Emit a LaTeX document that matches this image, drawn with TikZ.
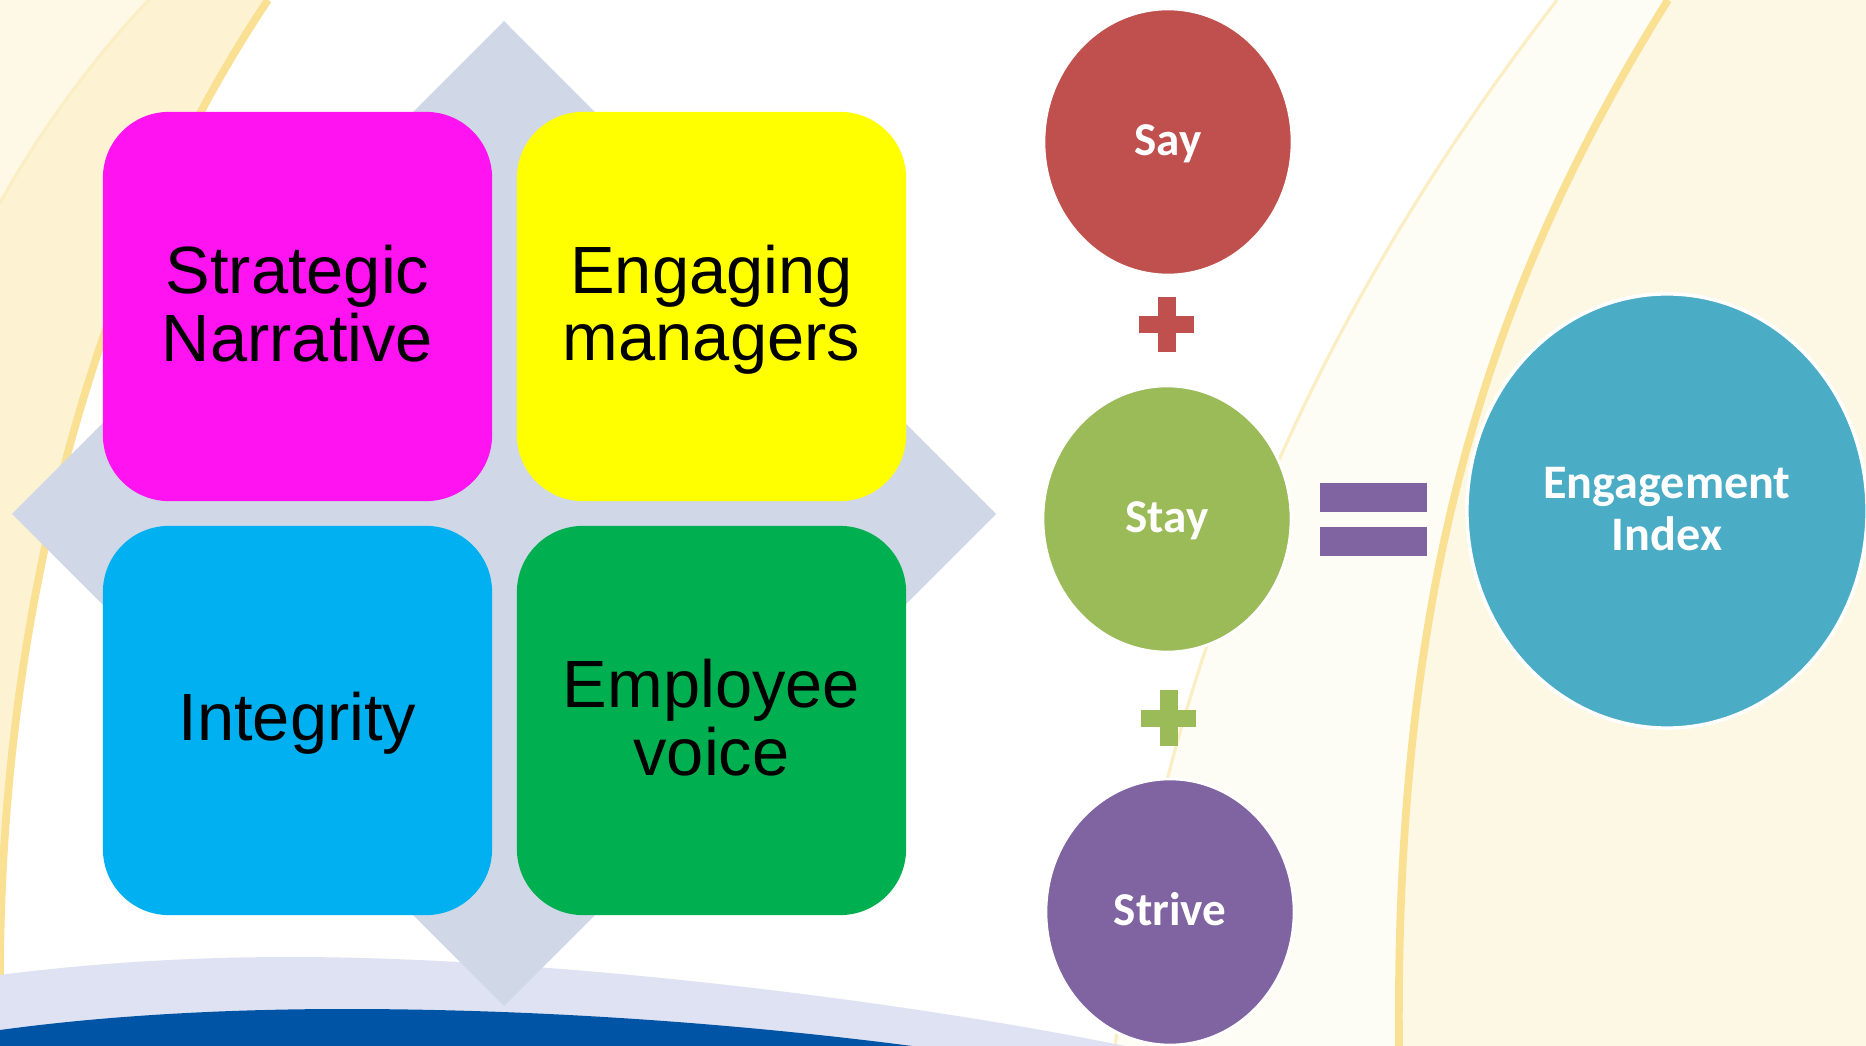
\documentclass[tikz,border=0pt]{standalone}
\usepackage{fontspec}
\setmainfont{Liberation Sans}
\newfontfamily\calibri{Carlito}
\usetikzlibrary{shapes.geometric}

\definecolor{quadpink}{RGB}{255,19,240}
\definecolor{quadyellow}{RGB}{255,255,0}
\definecolor{quadblue}{RGB}{0,176,240}
\definecolor{quadgreen}{RGB}{0,176,80}
\definecolor{diamondgrey}{RGB}{208,216,232}
\definecolor{sayred}{RGB}{192,80,77}
\definecolor{staygreen}{RGB}{155,187,89}
\definecolor{strivepurple}{RGB}{128,100,162}
\definecolor{indexblue}{RGB}{75,172,198}
\definecolor{creamdeep}{RGB}{253,242,210}
\definecolor{creamlight}{RGB}{254,248,230}
\definecolor{creamright}{RGB}{253,248,228}
\definecolor{creamfaint}{RGB}{254,253,245}
\definecolor{arcyellow}{RGB}{250,224,146}
\definecolor{arcpale}{RGB}{252,238,196}
\definecolor{bandlilac}{RGB}{222,226,242}
\definecolor{bandnavy}{RGB}{0,84,165}

% struts so that one and two line labels sit like the slide text
\newcommand{\qstrut}{\rule[-0.18em]{0pt}{1em}}
\newcommand{\cstrut}{\rule[-0.27em]{0pt}{1.12em}}
% keep the baselines at a fixed distance
\newcommand{\tightlines}{\lineskiplimit-100pt\relax}

\begin{document}
\begin{tikzpicture}[x=0.01cm,y=-0.01cm,
   quad/.style={rounded corners=18.8pt,minimum width=3.89cm,minimum height=3.89cm,inner sep=0pt,
     align=center,font=\fontsize{19}{19.3}\selectfont\tightlines},
   ball/.style={ellipse,draw=white,line width=0.8pt,minimum width=2.48cm,minimum height=2.66cm,
     inner sep=0pt,align=center,text=white,
     font=\calibri\bfseries\fontsize{13.4}{14.8}\selectfont\tightlines}]
   \useasboundingbox (0,0) rectangle (1866,1046);
   \clip (0,0) rectangle (1866,1046);
   \fill[white] (0,0) rectangle (1866,1046);

   % background arcs, left
   \fill[creamdeep] (0,0) -- (268,0) .. controls (100,250) and (0,600) .. (0,980) -- cycle;
   \fill[creamlight] (0,0) -- (149,0) .. controls (100,50) and (40,130) .. (0,203) -- cycle;
   \draw[arcpale,line width=0.9pt] (149,0) .. controls (100,50) and (40,130) .. (0,203);
   \draw[arcyellow,line width=2.2pt] (268,0) .. controls (100,250) and (0,600) .. (0,980);

   % background arcs, right
   \fill[creamfaint] (1557,0) .. controls (1380,230) and (1180,560) .. (1115,1046) -- (1866,1046) -- (1866,0) -- cycle;
   \fill[creamright] (1668,0) .. controls (1480,300) and (1395,600) .. (1399,1046) -- (1866,1046) -- (1866,0) -- cycle;
   \draw[arcpale,line width=0.9pt] (1557,0) .. controls (1380,230) and (1180,560) .. (1115,1046);
   \draw[arcyellow,line width=2.2pt] (1668,0) .. controls (1480,300) and (1395,600) .. (1399,1046);

   % bottom bands
   \fill[bandlilac] (0,975) .. controls (100,962) and (200,957) .. (290,957)
      .. controls (550,957) and (900,1000) .. (1125,1046) -- (0,1046) -- cycle;
   \fill[bandnavy] (0,1030) .. controls (110,1015) and (230,1009) .. (345,1009)
      .. controls (550,1009) and (750,1025) .. (912,1046) -- (0,1046) -- cycle;

   % diamond behind the four boxes
   \fill[diamondgrey] (504,21) -- (996,514) -- (504,1006) -- (12,514) -- cycle;

   \node[quad,fill=quadpink] (narrative) at (297.5,306.5) {\qstrut Strategic\\\qstrut Narrative};
   \node[quad,fill=quadyellow] (managers) at (711.5,306.5) {\qstrut Engaging\\\qstrut managers};
   \node[quad,fill=quadblue] (integrity) at (297.5,720.5) {\qstrut Integrity};
   \node[quad,fill=quadgreen] (voice) at (711.5,720.5) {\qstrut Employee\\\qstrut voice};

   % say + stay + strive = index
   \node[ball,fill=sayred] (say) at (1168,142) {\cstrut Say};
   \node[ball,fill=staygreen] (stay) at (1167,519) {\cstrut Stay};
   \node[ball,fill=strivepurple] (strive) at (1170,912) {\cstrut Strive};
   \node[ball,fill=indexblue,line width=1pt,minimum width=4cm,minimum height=4.34cm,
      font=\calibri\bfseries\fontsize{13.7}{14.8}\selectfont\tightlines] (index) at (1667,511)
      {\cstrut Engagement\\\cstrut Index};

   \fill[sayred] (1157.5,297) rectangle (1175.5,352);
   \fill[sayred] (1139,316) rectangle (1194,333);
   \fill[staygreen] (1159.5,690.5) rectangle (1177.5,745.5);
   \fill[staygreen] (1141,709.5) rectangle (1196,726.5);
   \fill[strivepurple] (1320,483) rectangle (1427,512);
   \fill[strivepurple] (1320,527) rectangle (1427,556);
\end{tikzpicture}
\end{document}
